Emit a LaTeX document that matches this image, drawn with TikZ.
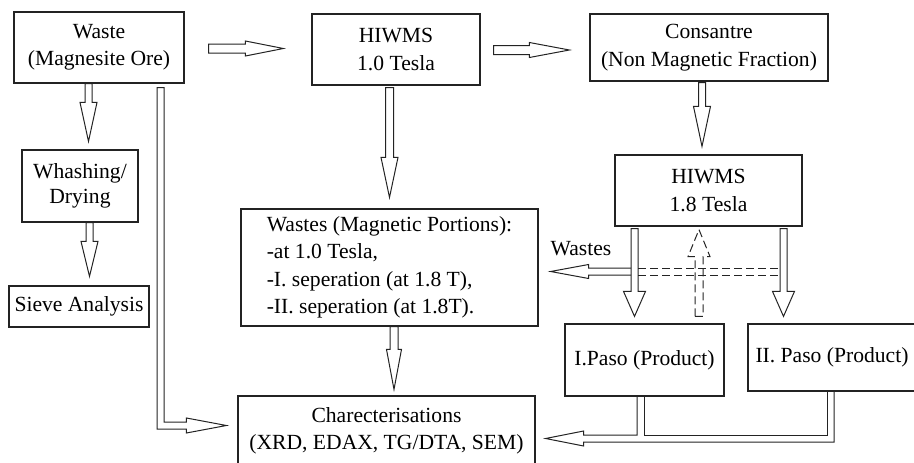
\documentclass[tikz,border=0pt]{standalone}
\usepackage{fontspec}
\setmainfont{Liberation Serif}
\usetikzlibrary{calc}
\definecolor{linec}{RGB}{35,35,35}
\newcommand\mainfs{\fontsize{21.6}{27.5}\selectfont}
\newcommand\tightfs{\fontsize{21.6}{24.5}\selectfont}
% hollow block arrows: [style]{tail}{tip}{head length}{head half width}{shaft half width}
\newcommand\arrD[6][]{\draw[blk,#1] let \p1=(#2),\p2=(#3) in
  (\x1-#6,\y1) -- (\x1-#6,\y2+#4) -- (\x1-#5,\y2+#4) -- (\x1,\y2) --
  (\x1+#5,\y2+#4) -- (\x1+#6,\y2+#4) -- (\x1+#6,\y1) -- cycle;}
\newcommand\arrU[6][]{\draw[blk,#1] let \p1=(#2),\p2=(#3) in
  (\x1-#6,\y1) -- (\x1-#6,\y2-#4) -- (\x1-#5,\y2-#4) -- (\x1,\y2) --
  (\x1+#5,\y2-#4) -- (\x1+#6,\y2-#4) -- (\x1+#6,\y1) -- cycle;}
\newcommand\arrR[6][]{\draw[blk,#1] let \p1=(#2),\p2=(#3) in
  (\x1,\y1+#6) -- (\x2-#4,\y1+#6) -- (\x2-#4,\y1+#5) -- (\x2,\y1) --
  (\x2-#4,\y1-#5) -- (\x2-#4,\y1-#6) -- (\x1,\y1-#6) -- cycle;}
\begin{document}
\begin{tikzpicture}[x=1pt,y=-1pt,
  box/.style={draw=linec, line width=1.2pt, inner sep=0pt, align=center,
    font=\mainfs, text=black},
  blk/.style={draw=linec, line width=1pt, line join=miter},
  dsh/.style={dash pattern=on 8pt off 4pt}]
\useasboundingbox (0,0) rectangle (914,463);

% process boxes
\node[box, minimum width=170pt, minimum height=71pt] (waste) at (99,47.5)
  {Waste\\(Magnesite Ore)};
\node[box, minimum width=168pt, minimum height=71pt] (hiwms1) at (396,49.5)
  {HIWMS\\ 1.0 Tesla};
\node[box, minimum width=238pt, minimum height=67pt] (cons) at (709,47.5)
  {Consantre\\(Non Magnetic Fraction)};
\node[box, font=\tightfs, minimum width=116pt, minimum height=72pt] (wash) at (80,186)
  {Whashing/\\Drying};
\node[box, minimum width=140pt, minimum height=41pt] (sieve) at (79,306.5)
  {Sieve Analysis};
\node[box, minimum width=187pt, minimum height=71pt] (hiwms2) at (708.5,190.5)
  {HIWMS\\1.8 Tesla};
\node[box, align=left, minimum width=297pt, minimum height=117pt] (wastes) at (389.5,267.5)
  {Wastes (Magnetic Portions):\\-at 1.0 Tesla,\\-I. seperation (at 1.8 T),\\-II. seperation (at 1.8T).};
\node[box, minimum width=159pt, minimum height=72pt] (paso1) at (644.5,360)
  {I.Paso (Product)};
\node[box, minimum width=168pt, minimum height=67pt] (paso2) at (832,357.5)
  {II. Paso (Product)};
\node[box, minimum width=297pt, minimum height=70pt] (char) at (386.5,431)
  {Charecterisations\\(XRD, EDAX, TG/DTA, SEM)};
\node[font=\mainfs, inner sep=0pt] (wlab) at (581,249) {Wastes};

% straight block arrows
\arrD{$(waste.south)+(-10.5,0)$}{$(wash.north)+(0,-8)$}{39pt}{8.5pt}{3.5pt}
\arrD{$(wash.south)+(9.5,0)$}{$(sieve.north)+(0,-9)$}{35pt}{8.5pt}{3.5pt}
\arrD{$(hiwms1.south)+(-6.5,2)$}{$(wastes.north)+(0,-11)$}{40pt}{8.5pt}{4pt}
\arrD{$(wastes.south)+(4.5,0)$}{$(char.north)+(0,-6)$}{40pt}{7.5pt}{4pt}
\arrD{$(cons.south)+(-7,1)$}{$(hiwms2.north)+(0,-8)$}{40pt}{8.5pt}{3.5pt}
\coordinate (d1) at ($(hiwms2.south)+(-74,2)$);
\coordinate (d2) at ($(hiwms2.south)+(75,2)$);
\arrD{d1}{$(paso1.north)+(0,-7)$}{25pt}{11pt}{3.5pt}
\arrD{d2}{$(paso2.north)+(0,-7)$}{25pt}{11pt}{3.5pt}
\arrU[dsh]{$(paso1.north)+(54.5,-7)$}{$(hiwms2.south)+(0,3)$}{27pt}{11pt}{4pt}
\arrR{$(waste.east)+(24,1)$}{$(hiwms1.west)+(-28,-1)$}{38pt}{7.5pt}{4.5pt}
\arrR{$(hiwms1.east)+(13,0.5)$}{$(cons.west)+(-20,0)$}{40pt}{7.5pt}{4.5pt}

% wastes returned from the 1.8 T separator
\coordinate (wl) at ($(wastes.east)+(12,4)$);
\draw[blk] let \p1=(d1), \p2=(wl) in
  (\x1-3.5pt,\y2+3.5pt) -- (\x2+38pt,\y2+3.5pt) -- (\x2+38pt,\y2+7pt) -- (\p2) --
  (\x2+38pt,\y2-7pt) -- (\x2+38pt,\y2-3.5pt) -- (\x1-3.5pt,\y2-3.5pt);
\draw[blk,dsh] let \p1=(d1), \p2=(d2), \p3=(wl) in
  (\x1+3.5pt,\y3+3.5pt) -- (\x2-3.5pt,\y3+3.5pt)
  (\x1+3.5pt,\y3-3.5pt) -- (\x2-3.5pt,\y3-3.5pt);

% raw waste straight to characterisation
\coordinate (p0) at ($(waste.south)+(61.5,4)$);
\coordinate (pt) at ($(char.west)+(-11,-5.5)$);
\draw[blk] let \p1=(p0), \p2=(pt) in
  (\x1+3.5pt,\y1) -- (\x1+3.5pt,\y2+3.5pt) -- (\x2-40pt,\y2+3.5pt) --
  (\x2-40pt,\y2+7.5pt) -- (\p2) -- (\x2-40pt,\y2-7.5pt) -- (\x2-40pt,\y2-3.5pt) --
  (\x1-3.5pt,\y2-3.5pt) -- (\x1-3.5pt,\y1) -- cycle;

% both products to characterisation
\coordinate (q1) at ($(paso1.south)+(-4,0)$);
\coordinate (q2) at ($(paso2.south)+(-1.5,0)$);
\coordinate (qt) at ($(char.east)+(10,7.5)$);
\draw[blk] let \p1=(q1), \p2=(q2), \p3=(qt) in
  (\x1-3.5pt,\y1) -- (\x1-3.5pt,\y3+3.5pt) -- (\x3+38pt,\y3+3.5pt) --
  (\x3+38pt,\y3+7.5pt) -- (\p3) -- (\x3+38pt,\y3-7.5pt) -- (\x3+38pt,\y3-3.5pt) --
  (\x2+3.5pt,\y3-3.5pt) -- (\x2+3.5pt,\y2);
\draw[blk] let \p1=(q1), \p2=(q2), \p3=(qt) in
  (\x1+3.5pt,\y1) -- (\x1+3.5pt,\y3+3.5pt) -- (\x2-3.5pt,\y3+3.5pt) -- (\x2-3.5pt,\y2);
\end{tikzpicture}
\end{document}
